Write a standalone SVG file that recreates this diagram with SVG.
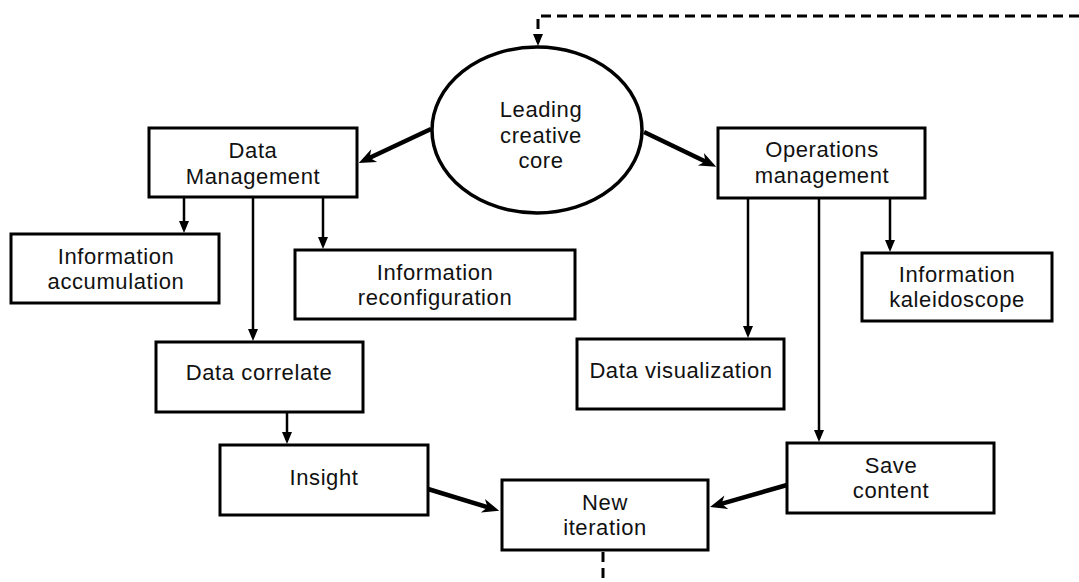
<svg xmlns="http://www.w3.org/2000/svg" width="1079" height="582" viewBox="0 0 1079 582">
<style>
.box{fill:#fff;stroke:#000;stroke-width:3}
.t{font-family:"Liberation Sans",Arial,sans-serif;font-size:22px;letter-spacing:0.6px;fill:#111;text-anchor:middle}
.thin{stroke:#000;stroke-width:2.5;fill:none}
.thick{stroke:#000;stroke-width:4.5;fill:none}
.dash{stroke:#000;stroke-width:3;fill:none;stroke-dasharray:10 6}
</style>
<defs>
<marker id="tri" markerUnits="userSpaceOnUse" markerWidth="12" markerHeight="10" refX="8" refY="5" orient="auto" overflow="visible">
<path d="M0,0 L12,5 L0,10 z" fill="#000"/>
</marker>
<marker id="barb" markerUnits="userSpaceOnUse" markerWidth="18" markerHeight="16" refX="9" refY="8" orient="auto" overflow="visible">
<path d="M0,1 L17,8 L0,15 L5,8 z" fill="#000"/>
</marker>
</defs>
<g id="connectors">
<path class="dash" d="M1079,16 H538 V42" marker-end="url(#tri)"/>
<line class="thick" x1="431" y1="129" x2="366" y2="159.5" marker-end="url(#barb)"/>
<line class="thick" x1="644" y1="132" x2="709" y2="163.2" marker-end="url(#barb)"/>
<line class="thick" x1="428" y1="489" x2="491.5" y2="508.4" marker-end="url(#barb)"/>
<line class="thick" x1="787" y1="485" x2="717.7" y2="504.8" marker-end="url(#barb)"/>
<line class="thin" x1="184" y1="197" x2="184" y2="229" marker-end="url(#tri)"/>
<line class="thin" x1="253" y1="197" x2="253" y2="337" marker-end="url(#tri)"/>
<line class="thin" x1="323" y1="197" x2="323" y2="245" marker-end="url(#tri)"/>
<line class="thin" x1="287" y1="412" x2="287" y2="440" marker-end="url(#tri)"/>
<line class="thin" x1="748" y1="198" x2="748" y2="334" marker-end="url(#tri)"/>
<line class="thin" x1="819" y1="198" x2="819" y2="438" marker-end="url(#tri)"/>
<line class="thin" x1="890" y1="198" x2="890" y2="248" marker-end="url(#tri)"/>
<line class="dash" x1="603" y1="552" x2="603" y2="582"/>
</g>
<g id="leading-creative-core">
<ellipse cx="537" cy="130" rx="105" ry="83" fill="#fff" stroke="#000" stroke-width="3.5"/>
<text class="t" x="541" y="117">Leading</text>
<text class="t" x="541" y="143">creative</text>
<text class="t" x="541" y="168">core</text>
</g>
<g id="data-management">
<rect class="box" x="149" y="128" width="208" height="69"/>
<text class="t" x="253" y="158">Data</text>
<text class="t" x="253" y="184">Management</text>
</g>
<g id="information-accumulation">
<rect class="box" x="11" y="234" width="208" height="69"/>
<text class="t" x="116" y="264">Information</text>
<text class="t" x="116" y="289">accumulation</text>
</g>
<g id="information-reconfiguration">
<rect class="box" x="295" y="250" width="280" height="69"/>
<text class="t" x="435" y="280">Information</text>
<text class="t" x="435" y="305">reconfiguration</text>
</g>
<g id="data-correlate">
<rect class="box" x="156" y="342" width="207" height="70"/>
<text class="t" x="259" y="380">Data correlate</text>
</g>
<g id="insight">
<rect class="box" x="220" y="445" width="208" height="70"/>
<text class="t" x="324" y="485">Insight</text>
</g>
<g id="new-iteration">
<rect class="box" x="502" y="480" width="206" height="70"/>
<text class="t" x="605" y="510">New</text>
<text class="t" x="605" y="535">iteration</text>
</g>
<g id="operations-management">
<rect class="box" x="718" y="128" width="207" height="70"/>
<text class="t" x="822" y="157">Operations</text>
<text class="t" x="822" y="183">management</text>
</g>
<g id="information-kaleidoscope">
<rect class="box" x="862" y="253" width="190" height="68"/>
<text class="t" x="957" y="282">Information</text>
<text class="t" x="957" y="307">kaleidoscope</text>
</g>
<g id="data-visualization">
<rect class="box" x="577" y="339" width="207" height="70"/>
<text class="t" x="681" y="378">Data visualization</text>
</g>
<g id="save-content">
<rect class="box" x="787" y="443" width="207" height="70"/>
<text class="t" x="891" y="473">Save</text>
<text class="t" x="891" y="498">content</text>
</g>
</svg>
